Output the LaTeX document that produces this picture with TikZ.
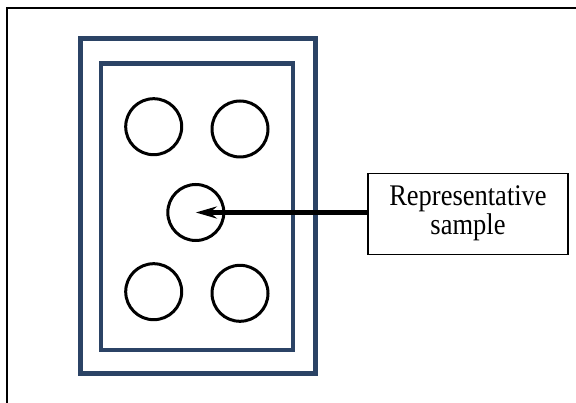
\documentclass[tikz,border=0pt]{standalone}
\usepackage{fontspec}
\setmainfont{Liberation Serif}
\usetikzlibrary{arrows.meta}
\definecolor{navy}{RGB}{43,67,101}
\tikzset{
  well/.style={circle,draw=black,line width=3pt,minimum size=56pt,inner sep=0pt},
  plate/.style={draw=navy,line width=5pt},
  labelbox/.style={draw=black,line width=1.4pt,minimum width=200pt,minimum height=81pt,align=center,inner sep=0pt},
  pointer/.style={line width=4.5pt,-{Stealth[length=21pt,width=12pt,inset=7pt]}}
}
\begin{document}
\begin{tikzpicture}[x=1pt,y=-1pt]
\useasboundingbox (0,0) rectangle (576,403);
\draw[line width=2pt,line cap=rect] (6.5,403) -- (6.5,8.3) -- (576,8.3);
\draw[plate] (80.7,38.7) rectangle (315.7,374);
\draw[plate,line width=4.5pt] (101,63.3) rectangle (293,350);
\node[well] (tl) at (153.7,126.7) {};
\node[well] (tr) at (240,129) {};
\node[well] (mid) at (195.8,212.5) {};
\node[well] (bl) at (153.7,291.7) {};
\node[well] (br) at (240,293.3) {};
\node[labelbox] (lbl) at (468,214) {\scalebox{1}[1.13]{\fontsize{26.5}{23}\selectfont\begin{tabular}{@{}c@{}}Representative\\sample\end{tabular}}};
\draw[pointer] (lbl.west |- mid.center) -- (mid.center);
\end{tikzpicture}
\end{document}
